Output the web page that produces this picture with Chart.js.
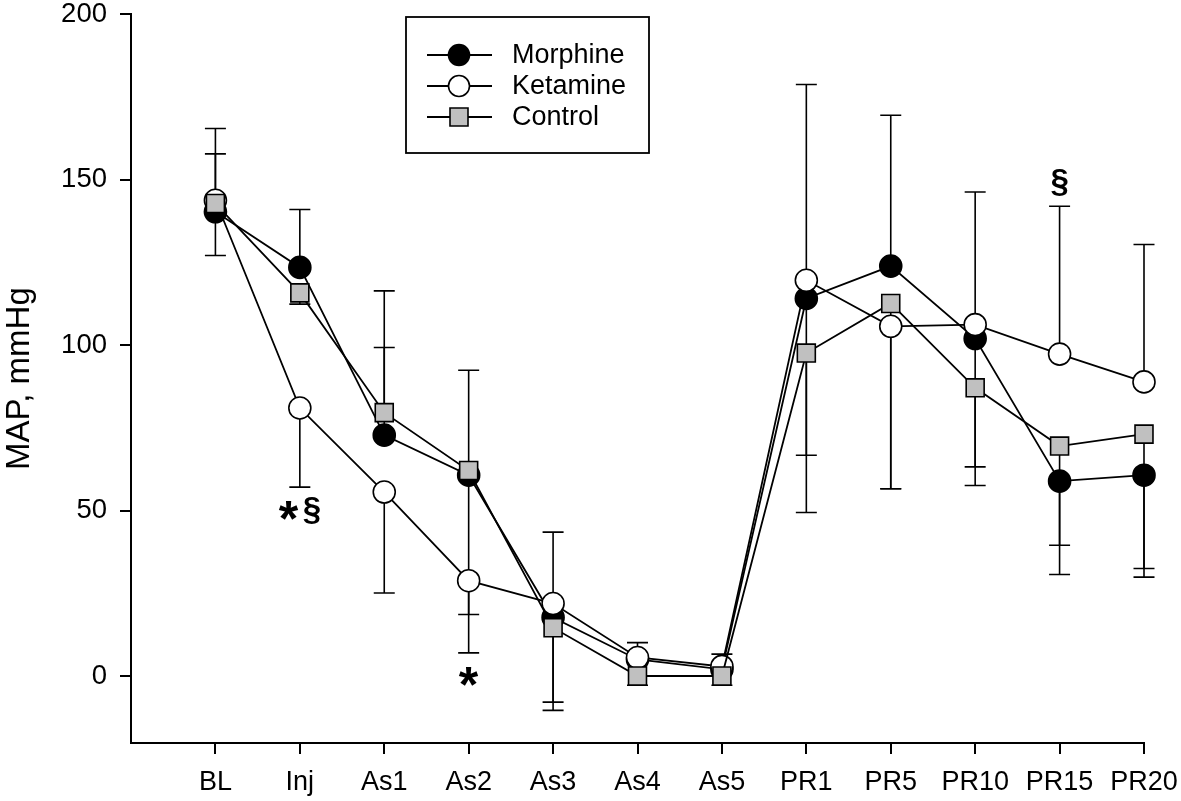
<!DOCTYPE html>
<html>
<head>
<meta charset="utf-8">
<title>MAP, mmHg</title>
<script src="https://cdn.jsdelivr.net/npm/chart.js@4/dist/chart.umd.min.js"></script>
<style>
  html, body { margin: 0; padding: 0; background: #fff; }
</style>
</head>
<body>
<canvas id="grafico" width="1181" height="801"></canvas>
<script>
// ==============================
// DATOS
// ==============================

// Momentos del registro (eje X)
const momentos = ["BL", "Inj", "As1", "As2", "As3", "As4", "As5", "PR1", "PR5", "PR10", "PR15", "PR20"];

// Medias de MAP (mmHg)
const morphine = [140.3, 123.5, 72.8, 60.7, 17.7, 5.0, 2.0, 114.1, 123.9, 102.0, 58.9, 60.7];
const ketamine = [143.8, 81.0, 55.6, 28.8, 21.9, 5.6, 2.9, 119.6, 105.7, 106.2, 97.3, 88.9];
const control = [142.8, 115.8, 79.6, 62.1, 14.6, 0, 0, 97.6, 112.6, 87.1, 69.5, 73.1];

// Extremos de las barras de error (null = no se dibuja)
const morphineUp = [null, 141.0, 99.3, null, null, null, null, null, 169.5, null, null, null];
const morphineDown = [127.1, null, null, 7.0, -7.9, null, null, 49.4, null, 57.6, 30.7, 32.5];
const ketamineUp = [165.5, null, null, null, 43.5, 10.1, 6.6, 178.8, null, 146.3, 142.0, 130.4];
const ketamineDown = [null, 57.1, 25.1, 18.6, null, null, null, null, 56.6, null, null, null];
const controlUp = [157.8, null, 116.4, 92.4, null, null, null, null, null, null, null, null];
const controlDown = [null, 112.4, null, null, -10.4, -2.8, -2.8, 66.7, 56.6, 63.2, 39.5, 29.9];

// Marcas de significación
const marcas = [
  { momento: "Inj", valor: 50.0, texto: "*§" },
  { momento: "As2", valor: -0.3, texto: "*" },
  { momento: "PR15", valor: 149.3, texto: "§" }
];

// Ticks del eje Y
const ticksY = [0, 50, 100, 150, 200];

// ==============================
// PLUGINS
// ==============================
const fuente = "'Liberation Sans', Arial, Helvetica, sans-serif";

// Barras de error (debajo de las series)
const barrasError = {
  id: "barrasError",
  beforeDatasetsDraw(chart) {
    const { ctx, scales: { x, y } } = chart;
    const series = [
      [morphine, morphineUp, morphineDown],
      [ketamine, ketamineUp, ketamineDown],
      [control, controlUp, controlDown]
    ];
    ctx.save();
    ctx.strokeStyle = "#000";
    ctx.lineWidth = 1.6;
    series.forEach(([medias, arriba, abajo]) => {
      medias.forEach((m, i) => {
        const px = x.getPixelForValue(i);
        [arriba[i], abajo[i]].forEach(fin => {
          if (fin === null) return;
          const py0 = y.getPixelForValue(m);
          const py1 = y.getPixelForValue(fin);
          ctx.beginPath();
          ctx.moveTo(px, py0);
          ctx.lineTo(px, py1);
          ctx.moveTo(px - 10.5, py1);
          ctx.lineTo(px + 10.5, py1);
          ctx.stroke();
        });
      });
    });
    ctx.restore();
  }
};

// Asteriscos y símbolos §
const marcasTexto = {
  id: "marcasTexto",
  afterDatasetsDraw(chart) {
    const { ctx, scales: { x, y } } = chart;
    ctx.save();
    ctx.fillStyle = "#000";
    ctx.textAlign = "left";
    ctx.textBaseline = "alphabetic";
    marcas.forEach(mk => {
      const cx = x.getPixelForValue(momentos.indexOf(mk.momento));
      const cy = y.getPixelForValue(mk.valor);
      const chars = mk.texto.split("");
      const fontDe = c => "bold " + (c === "*" ? 50 : 33) + "px " + fuente;
      let total = 0;
      const anchos = chars.map(c => {
        ctx.font = fontDe(c);
        const mt = ctx.measureText(c);
        const w = mt.actualBoundingBoxLeft + mt.actualBoundingBoxRight;
        total += w;
        return w;
      });
      total += (chars.length - 1) * 4;
      let xi = cx - total / 2;
      chars.forEach((c, k) => {
        ctx.font = fontDe(c);
        const mt = ctx.measureText(c);
        const base = cy + (mt.actualBoundingBoxAscent - mt.actualBoundingBoxDescent) / 2;
        ctx.fillText(c, xi + mt.actualBoundingBoxLeft, base);
        xi += anchos[k] + 4;
      });
    });
    ctx.restore();
  }
};

// Leyenda con recuadro
const leyenda = {
  id: "leyenda",
  afterDraw(chart) {
    const ctx = chart.ctx;
    const items = [
      { texto: "Morphine", estilo: "circle", relleno: "#000" },
      { texto: "Ketamine", estilo: "circle", relleno: "#fff" },
      { texto: "Control", estilo: "rect", relleno: "#c0c0c0" }
    ];
    ctx.save();
    ctx.fillStyle = "#fff";
    ctx.fillRect(406, 17, 243, 136);
    ctx.strokeStyle = "#000";
    ctx.lineWidth = 1.8;
    ctx.strokeRect(406, 17, 243, 136);
    items.forEach((it, i) => {
      const yy = 55 + i * 31;
      ctx.beginPath();
      ctx.lineWidth = 1.8;
      ctx.moveTo(427, yy);
      ctx.lineTo(492, yy);
      ctx.stroke();
      ctx.beginPath();
      if (it.estilo === "circle") {
        ctx.arc(459, yy, 10.5, 0, Math.PI * 2);
      } else {
        ctx.rect(450, yy - 9, 18, 18);
      }
      ctx.fillStyle = it.relleno;
      ctx.fill();
      ctx.lineWidth = 1.6;
      ctx.stroke();
      ctx.fillStyle = "#000";
      ctx.font = "27px " + fuente;
      ctx.textAlign = "left";
      ctx.textBaseline = "middle";
      ctx.fillText(it.texto, 512, yy + 1);
    });
    ctx.restore();
  }
};

// ==============================
// GRÁFICO
// ==============================
const aPuntos = serie => serie.map((v, i) => ({ x: i, y: v }));

const estiloSerie = {
  borderColor: "#000",
  borderWidth: 1.8,
  pointBorderColor: "#000",
  pointBorderWidth: 1.6,
  tension: 0,
  fill: false,
  clip: false
};

const ctxGrafico = document.getElementById("grafico").getContext("2d");

new Chart(ctxGrafico, {
  type: "line",
  data: {
    datasets: [
      {
        ...estiloSerie,
        label: "Control",
        data: aPuntos(control),
        pointStyle: "rect",
        pointRadius: 12.7,
        pointBackgroundColor: "#c0c0c0",
        order: 1
      },
      {
        ...estiloSerie,
        label: "Ketamine",
        data: aPuntos(ketamine),
        pointStyle: "circle",
        pointRadius: 11,
        pointBackgroundColor: "#fff",
        order: 2
      },
      {
        ...estiloSerie,
        label: "Morphine",
        data: aPuntos(morphine),
        pointStyle: "circle",
        pointRadius: 11,
        pointBackgroundColor: "#000",
        order: 3
      }
    ]
  },
  options: {
    responsive: false,
    animation: false,
    devicePixelRatio: 1,
    layout: { padding: { top: 14, right: 37, bottom: 0, left: 0 } },
    plugins: {
      legend: { display: false },
      tooltip: { enabled: false }
    },
    scales: {
      x: {
        type: "linear",
        min: -1,
        max: 11,
        afterBuildTicks: s => { s.ticks = momentos.map((_, i) => ({ value: i })); },
        afterFit: s => {
          s.height = 58;
          s.paddingLeft = 0;
          s.paddingRight = 0;
        },
        ticks: {
          callback: v => momentos[v],
          color: "#000",
          font: { family: fuente, size: 27 },
          padding: 12,
          maxRotation: 0,
          autoSkip: false
        },
        grid: { drawOnChartArea: false, drawTicks: true, tickLength: 11, color: "#000", lineWidth: 2 },
        border: { color: "#000", width: 2 }
      },
      y: {
        min: -20.25,
        max: 200,
        afterBuildTicks: s => { s.ticks = ticksY.map(v => ({ value: v })); },
        afterFit: s => {
          s.width = 131;
          s.paddingTop = 0;
          s.paddingBottom = 0;
        },
        ticks: {
          color: "#000",
          font: { family: fuente, size: 27.5 },
          padding: 13
        },
        title: {
          display: true,
          text: "MAP, mmHg",
          color: "#000",
          font: { family: fuente, size: 33 },
          padding: { top: 0, bottom: 0 }
        },
        grid: { drawOnChartArea: false, drawTicks: true, tickLength: 11, color: "#000", lineWidth: 2 },
        border: { color: "#000", width: 2 }
      }
    }
  },
  plugins: [barrasError, marcasTexto, leyenda]
});
</script>
</body>
</html>
